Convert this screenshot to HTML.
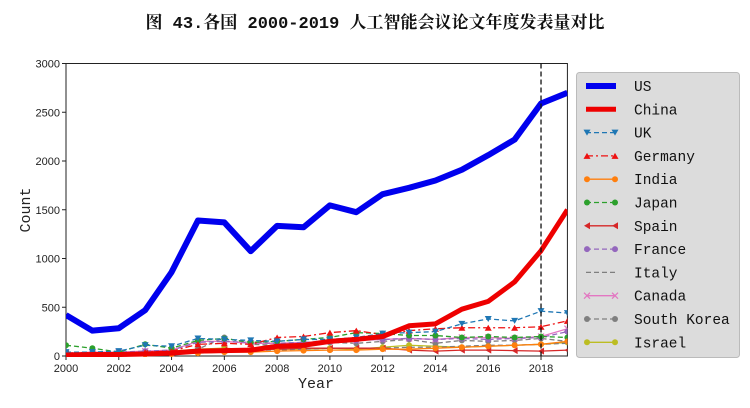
<!DOCTYPE html>
<html><head><meta charset="utf-8"><style>
body{margin:0;background:#fff;width:750px;height:408px;overflow:hidden}
svg{display:block}
</style></head><body>
<svg id="s" width="750" height="408" xmlns="http://www.w3.org/2000/svg">
<text x="375" y="28" text-anchor="middle" style="font-family:'Liberation Mono','Noto Serif CJK SC',serif;font-size:17px;font-weight:bold" fill="#111">图 43.各国 2000-2019 人工智能会议论文年度发表量对比</text>
<g id="plot"></g>
</svg>
<script>
const X0=66,DX=26.39,Y0=356,K=292.5/3000;
const px=i=>X0+i*DX, py=v=>Y0-v*K;
const S=[
["US","#0000ee",6,"",null,[420,260,285,470,860,1390,1370,1075,1335,1320,1545,1475,1660,1725,1800,1910,2060,2220,2590,2700]],
["China","#ee0000",5,"",null,[10,15,15,20,30,50,55,60,100,110,150,170,200,310,330,480,560,760,1080,1500]],
["UK","#1f77b4",1.3,"5,3","v",[40,40,50,110,100,180,170,160,150,170,170,190,230,240,250,330,380,360,460,440]],
["Germany","#ee1111",1.3,"7,3,2,3","^",[30,35,30,40,50,120,130,120,190,200,240,260,220,260,280,290,290,290,300,360]],
["India","#ff7f0e",1.3,"","o",[10,10,10,15,20,30,40,40,50,55,60,60,70,70,80,90,100,110,120,150]],
["Japan","#2ca02c",1.3,"5,3","o",[110,80,40,120,80,160,180,140,150,170,190,240,230,210,210,190,200,190,200,190]],
["Spain","#d62728",1.3,"","<",[20,30,25,30,30,60,60,70,70,80,80,80,80,60,50,60,60,55,50,60]],
["France","#9467bd",1.3,"5,3","o",[30,40,40,50,60,140,150,140,130,140,150,160,170,180,170,180,170,180,190,250]],
["Italy","#7f7f7f",1.3,"5,3",null,[15,20,20,25,30,50,60,60,60,70,80,80,80,90,90,100,110,110,120,130]],
["Canada","#e377c2",1.3,"","x",[30,40,40,50,60,150,150,130,130,140,150,160,170,180,170,190,190,180,200,280]],
["South Korea","#7f7f7f",1.3,"5,3","o",[20,30,25,30,40,70,190,120,110,110,140,130,150,170,130,160,150,160,180,150]],
["Israel","#bcbd22",1.3,"","o",[20,25,20,40,50,70,80,60,70,70,80,70,90,110,100,90,100,110,120,140]]
];
const SANS="font-family:'Liberation Sans',sans-serif;", MONO="font-family:'Liberation Mono',monospace;";
let h='';
h+=`<rect x="${X0}" y="63.5" width="${px(19)-X0}" height="${Y0-63.5}" fill="#fff" stroke="#222" stroke-width="1"/>`;
for(let v=0;v<=3000;v+=500){h+=`<line x1="${X0-4}" x2="${X0}" y1="${py(v)}" y2="${py(v)}" stroke="#222"/><text x="${X0-6}" y="${py(v)+4}" style="${SANS}font-size:11px" text-anchor="end" fill="#222">${v}</text>`;}
for(let i=0;i<=18;i+=2){h+=`<line x1="${px(i)}" x2="${px(i)}" y1="${Y0}" y2="${Y0+4}" stroke="#222"/><text x="${px(i)}" y="${Y0+16}" style="${SANS}font-size:11px" text-anchor="middle" fill="#222">${2000+i}</text>`;}
h+=`<text x="316" y="388" style="${MONO}font-size:15px" text-anchor="middle" fill="#222">Year</text>`;
h+=`<text transform="translate(30,210) rotate(-90)" style="${MONO}font-size:15px" text-anchor="middle" fill="#222">Count</text>`;
function mk(m,x,y,c){
 if(m=="o")return `<circle cx="${x}" cy="${y}" r="3" fill="${c}"/>`;
 if(m=="v")return `<polygon points="${x-3.5},${y-3} ${x+3.5},${y-3} ${x},${y+3}" fill="${c}"/>`;
 if(m=="^")return `<polygon points="${x-3.5},${y+3} ${x+3.5},${y+3} ${x},${y-3}" fill="${c}"/>`;
 if(m=="<")return `<polygon points="${x+3},${y-3.5} ${x+3},${y+3.5} ${x-3},${y}" fill="${c}"/>`;
 if(m=="x")return `<path d="M${x-3} ${y-3}L${x+3} ${y+3}M${x-3} ${y+3}L${x+3} ${y-3}" stroke="${c}" stroke-width="1.2"/>`;
 return '';
}
h+=`<svg x="${X0}" y="63" width="${px(19)-X0}" height="${Y0-63+1}" overflow="hidden"><g transform="translate(${-X0},-63)">`;
for(let k=S.length-1;k>=0;k--){const [n,c,w,d,m,v]=S[k];
 h+=`<polyline fill="none" stroke="${c}" stroke-width="${w}" stroke-linejoin="round" ${d?`stroke-dasharray="${d}"`:''} points="${v.map((y,i)=>px(i)+','+py(y)).join(' ')}"/>`;
 if(m)v.forEach((y,i)=>h+=mk(m,px(i),py(y),c));}
h+=`</g></svg>`;
h+=`<line x1="${px(18)}" x2="${px(18)}" y1="63.5" y2="${Y0}" stroke="#111" stroke-width="1.3" stroke-dasharray="5,3"/>`;
h+=`<rect x="576.5" y="72.5" width="163" height="285" rx="3" fill="#dcdcdc" stroke="#bbb"/>`;
S.forEach(([n,c,w,d,m],i)=>{const y=86+i*23.3;
 h+=`<line x1="586" x2="616" y1="${y}" y2="${y}" stroke="${c}" stroke-width="${w}" ${d?`stroke-dasharray="${d}"`:''}/>`;
 if(m){h+=mk(m,587,y,c)+mk(m,615,y,c);}
 h+=`<text x="634" y="${y+5}" style="${MONO}font-size:14.5px" fill="#111">${n}</text>`;});
document.getElementById('plot').innerHTML=h;
</script>
</body></html>
